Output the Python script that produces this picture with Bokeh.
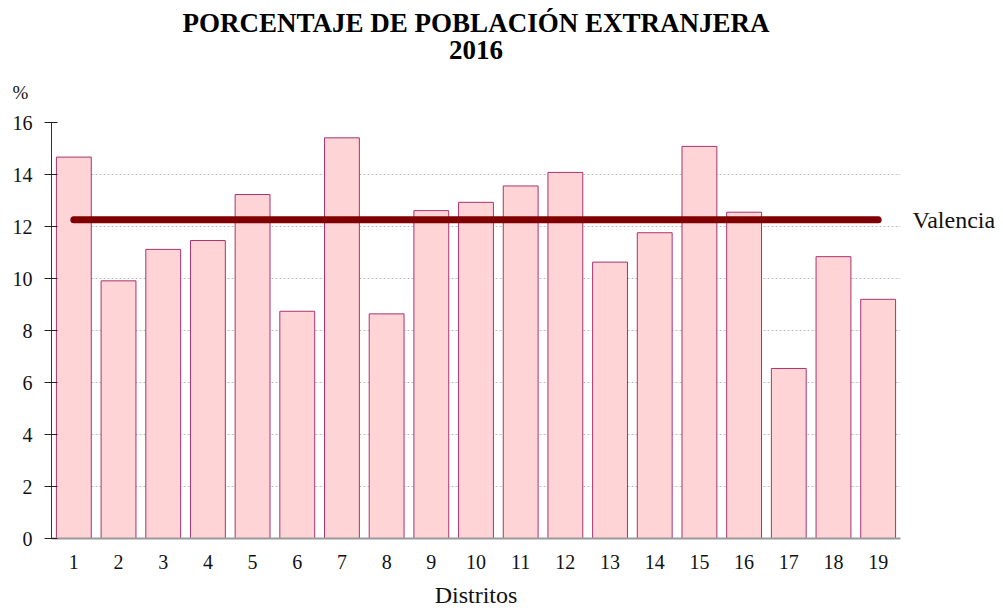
from bokeh.plotting import figure
from bokeh.models import FactorRange, Range1d, ColumnDataSource, FixedTicker, LinearAxis, Title
from bokeh.embed import file_html
from bokeh.resources import INLINE

# ---- data ----
districts = [str(i) for i in range(1, 20)]
values = [14.67, 9.91, 11.12, 11.46, 13.23, 8.74, 15.41, 8.64, 12.61, 12.93,
          13.56, 14.08, 10.63, 11.76, 15.08, 12.55, 6.54, 10.84, 9.20]
valencia = 12.26
y_ticks = [0, 2, 4, 6, 8, 10, 12, 14, 16]
title_line1 = "PORCENTAJE DE POBLACIÓN EXTRANJERA"
title_line2 = "2016"
x_title = "Distritos"
y_title = "%"
ref_label = "Valencia"

FONT = "Liberation Serif"

p = figure(width=1003, height=610, output_backend="svg", toolbar_location=None,
           x_range=FactorRange(factors=districts, range_padding=0),
           y_range=Range1d(0, 16),
           min_border_left=51, min_border_right=103, min_border_top=122,
           min_border_bottom=70)
p.outline_line_color = None
p.background_fill_color = "white"
p.border_fill_color = "white"

src = ColumnDataSource(dict(x=districts, top=values))
p.vbar(x="x", top="top", width=0.78, source=src, fill_color="#ffd4d7",
       line_color="#a8336f", line_width=1)

p.line(x=[districts[0], districts[-1]], y=[valencia, valencia],
       line_width=7, line_color="#7f0000", line_cap="round")

# grid
p.xgrid.grid_line_color = None
p.ygrid.ticker = FixedTicker(ticks=y_ticks)
p.ygrid.grid_line_color = "#bdbdbd"
p.ygrid.grid_line_dash = "2 2"
p.ygrid.grid_line_width = 1

# y axis
p.yaxis.ticker = FixedTicker(ticks=y_ticks)
p.yaxis.axis_line_color = "#333333"
p.yaxis.major_tick_line_color = "#222222"
p.yaxis.major_tick_in = 6
p.yaxis.major_tick_out = 7
p.yaxis.minor_tick_line_color = None
p.yaxis.major_label_standoff = 12
p.yaxis.major_label_text_font = FONT
p.yaxis.major_label_text_font_size = "20px"
p.yaxis.major_label_text_color = "#111111"

# x axis
p.xaxis.axis_line_color = "#9a9a9a"
p.xaxis.axis_line_width = 2
p.xaxis.major_tick_line_color = None
p.xaxis.major_tick_in = 0
p.xaxis.major_tick_out = 0
p.xaxis.minor_tick_line_color = None
p.xaxis.major_label_standoff = 16
p.xaxis.major_label_text_font = FONT
p.xaxis.major_label_text_font_size = "20px"
p.xaxis.major_label_text_line_height = 0.9
p.xaxis.major_label_text_color = "#111111"
p.xaxis.axis_label = x_title
p.xaxis.axis_label_standoff = 10
p.xaxis.axis_label_text_font = FONT
p.xaxis.axis_label_text_font_size = "24px"
p.xaxis.axis_label_text_line_height = 0.9
p.xaxis.axis_label_text_font_style = "normal"
p.xaxis.axis_label_text_color = "#111111"

# right axis carrying the reference label
ra = LinearAxis(ticker=FixedTicker(ticks=[valencia]),
                major_label_overrides={valencia: ref_label},
                axis_line_color=None, major_tick_line_color=None,
                major_tick_in=0, major_tick_out=0,
                minor_tick_line_color=None, major_label_standoff=12,
                major_label_text_font=FONT, major_label_text_font_size="24px",
                major_label_text_color="#111111")
p.add_layout(ra, "right")

# titles (first added sits closest to the frame)
p.add_layout(Title(text=y_title, align="left", offset=-39, standoff=40,
                   text_font=FONT, text_font_size="19px", text_font_style="normal",
                   text_color="#111111"), "above")
p.add_layout(Title(text=title_line2, align="center", standoff=2,
                   text_font=FONT, text_font_size="27px", text_font_style="bold",
                   text_line_height=0.75, text_color="#000000"), "above")
p.add_layout(Title(text=title_line1, align="center", standoff=0,
                   text_font=FONT, text_font_size="27px", text_font_style="bold",
                   text_line_height=0.75, text_color="#000000"), "above")

open("out.html", "w").write(file_html(p, INLINE))
